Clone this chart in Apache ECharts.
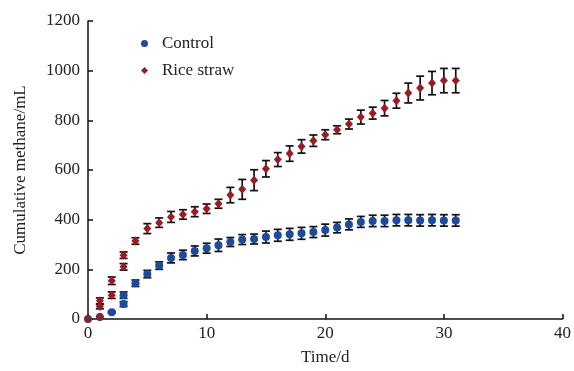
<!DOCTYPE html>
<html>
<head>
<meta charset="utf-8">
<script src="https://cdn.jsdelivr.net/npm/echarts@6/dist/echarts.min.js"></script>
<style>
html,body{margin:0;padding:0;background:#fff;}
#chart{width:574px;height:371px;}
</style>
</head>
<body>
<div id="chart"></div>
<script>
// Data
const controlDays   = [0,1,2,3,3,4,5,6,7,8,9,10,11,12,13,14,15,16,17,18,19,20,21,22,23,24,25,26,27,28,29,30,31];
const controlValues = [0,8,27,96,60,144,181,215,246,258,274,285,297,310,320,322,330,337,341,345,350,358,368,381,391,395,395,398,398,397,398,397,397];
const controlErrors = [0,0,3,13,10,13,15,15,20,19,20,20,25,18,20,20,24,24,24,24,22,24,21,22,22,23,23,23,23,23,23,23,23];

const strawDays   = [0,1,1,1,2,2,3,3,4,5,6,7,8,9,10,11,12,13,14,15,16,17,18,19,20,21,22,23,24,25,26,27,28,29,30,31];
const strawValues = [0,8,50,73,96,154,210,257,314,364,388,411,421,432,444,464,499,522,559,605,642,666,695,718,742,762,785,813,829,849,879,910,930,950,960,960];
const strawErrors = [0,0,9,12,13,15,13,13,13,20,19,22,19,20,19,18,31,40,42,33,28,31,27,23,20,16,20,28,24,31,30,40,48,47,49,49];

const xTicks = [0,10,20,30,40];
const yTicks = [0,200,400,600,800,1000,1200];
const seriesNames = ['Control','Rice straw'];

const font = 'Liberation Serif, Times New Roman, serif';
const blue = '#1b4b9c';
const red = '#9e1a21';

function pts(days, vals, errs){
  return days.map((d,i)=>[d, vals[i], errs[i]]);
}
const controlData = pts(controlDays, controlValues, controlErrors);
const strawData = pts(strawDays, strawValues, strawErrors);

function errRender(params, api){
  const x = api.value(0), y = api.value(1), e = api.value(2);
  if (!e) return null;
  const hi = api.coord([x, y + e]);
  const lo = api.coord([x, y - e]);
  const hw = 4;
  const style = {stroke:'#111', lineWidth:1.7, fill:null};
  return {type:'group', children:[
    {type:'line', shape:{x1:hi[0],y1:hi[1],x2:lo[0],y2:lo[1]}, style:style},
    {type:'line', shape:{x1:hi[0]-hw,y1:hi[1],x2:hi[0]+hw,y2:hi[1]}, style:style},
    {type:'line', shape:{x1:lo[0]-hw,y1:lo[1],x2:lo[0]+hw,y2:lo[1]}, style:style}
  ]};
}

const chart = echarts.init(document.getElementById('chart'), null, {renderer:'canvas'});
chart.setOption({
  animation:false,
  backgroundColor:'#fff',
  grid:{left:88, right:6, top:21, bottom:51, containLabel:false},
  legend:{
    orient:'vertical', left:136, top:30, itemGap:10,
    itemWidth:7, itemHeight:7,
    textStyle:{fontFamily:font, fontSize:17, color:'#222', padding:[0,0,0,9]},
    data:[{name:seriesNames[0], icon:'circle'},{name:seriesNames[1], icon:'diamond'}]
  },
  xAxis:{
    type:'value', min:xTicks[0], max:xTicks[xTicks.length-1], interval:10,
    name:'Time/d', nameLocation:'middle', nameGap:30,
    nameTextStyle:{fontFamily:font, fontSize:17, color:'#222'},
    axisLine:{lineStyle:{color:'#111', width:1.5}},
    axisTick:{inside:true, length:5, lineStyle:{color:'#111', width:1.5}},
    axisLabel:{fontFamily:font, fontSize:17, color:'#222', margin:6, formatter:v=>String(v)},
    splitLine:{show:false}
  },
  yAxis:{
    type:'value', min:yTicks[0], max:yTicks[yTicks.length-1], interval:200,
    name:'Cumulative methane/mL', nameLocation:'middle', nameGap:59,
    nameTextStyle:{fontFamily:font, fontSize:17, color:'#222'},
    axisLine:{show:true, lineStyle:{color:'#111', width:1.5}},
    axisTick:{show:true, inside:true, length:5, lineStyle:{color:'#111', width:1.5}},
    axisLabel:{fontFamily:font, fontSize:17, color:'#222', margin:8, formatter:v=>String(v)},
    splitLine:{show:false}
  },
  series:[
    {type:'custom', name:'errC', renderItem:errRender, data:controlData, z:2, silent:true},
    {type:'custom', name:'errS', renderItem:errRender, data:strawData, z:2, silent:true},
    {type:'scatter', name:seriesNames[0], data:controlData, symbol:'circle', symbolSize:8,
      itemStyle:{color:blue, opacity:1}, z:5},
    {type:'scatter', name:seriesNames[1], data:strawData, symbol:'diamond', symbolSize:[8,9],
      itemStyle:{color:red, opacity:1}, z:6}
  ]
});
</script>
</body>
</html>
